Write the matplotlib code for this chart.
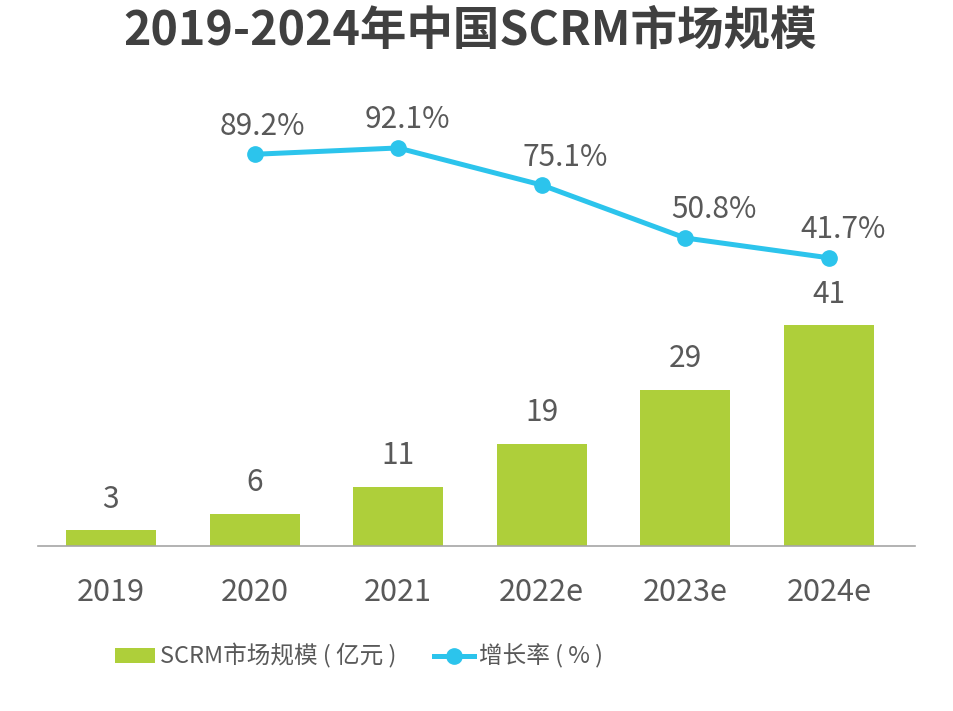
import matplotlib
matplotlib.use("Agg")
import matplotlib.pyplot as plt
from matplotlib.patches import Patch
from matplotlib.lines import Line2D

plt.rcParams['font.family'] = ['Noto Sans CJK SC', 'DejaVu Sans']

years = ["2019", "2020", "2021", "2022e", "2023e", "2024e"]
market_size = [3, 6, 11, 19, 29, 41]
growth_years = ["2020", "2021", "2022e", "2023e", "2024e"]
growth_rate = [89.2, 92.1, 75.1, 50.8, 41.7]

title = "2019-2024年中国SCRM市场规模"
bar_label = "SCRM市场规模 ( 亿元 )"
line_label = "增长率 ( % )"

bar_color = "#AECF3A"
line_color = "#2CC4EC"
text_color = "#595959"
title_color = "#404040"

# label offsets (points) for growth-rate labels
line_label_dx = [6, 7, 17, 21, 10]

fig = plt.figure(figsize=(9.54, 7.11), dpi=100)
ax = fig.add_axes([38/954, 1-546/711, 877/954, 446/711])

x = list(range(len(years)))
ax.bar(x, market_size, width=0.627, color=bar_color, zorder=2)
ax.set_xlim(-0.508, 5.6)
ax.set_ylim(0, 82.7)
for xi, v in zip(x, market_size):
    ax.annotate(str(v), (xi, v), xytext=(0, 11), textcoords="offset points",
                ha="center", va="bottom", fontsize=21.5, color=text_color)

for s in ["top", "right", "left"]:
    ax.spines[s].set_visible(False)
ax.spines["bottom"].set_color("#A6A6A6")
ax.spines["bottom"].set_linewidth(1.2)
ax.set_yticks([])
ax.set_xticks(x)
ax.set_xticklabels(years, fontsize=22, color=text_color)
ax.tick_params(axis="x", length=0, pad=22)

ax2 = ax.twinx()
ax2.set_ylim(-90.5, 114.1)
ax2.axis("off")
gx = [years.index(y) for y in growth_years]
ax2.plot(gx, growth_rate, color=line_color, lw=3.6, marker="o", markersize=11,
         zorder=3, solid_capstyle="round")
for xi, v, dx in zip(gx, growth_rate, line_label_dx):
    ax2.annotate(f"{v}%", (xi, v), xytext=(dx, 9), textcoords="offset points",
                 ha="center", va="bottom", fontsize=21.5, color=text_color)

fig.text(0.493, 1-31/711, title, ha="center", va="center", fontsize=33.5,
         fontweight="heavy", color=title_color)

handles = [Patch(facecolor=bar_color, edgecolor="none"),
           Line2D([0], [0], color=line_color, lw=3.6, marker="o", markersize=11)]
leg = fig.legend(handles, [bar_label, line_label], loc="center",
                 bbox_to_anchor=(0.376, 1-656/711), ncol=2, frameon=False,
                 fontsize=17, handlelength=1.7, handleheight=0.6,
                 handletextpad=0.2, columnspacing=1.6, labelcolor=text_color)

fig.savefig("out.png", dpi=100, facecolor="white")
